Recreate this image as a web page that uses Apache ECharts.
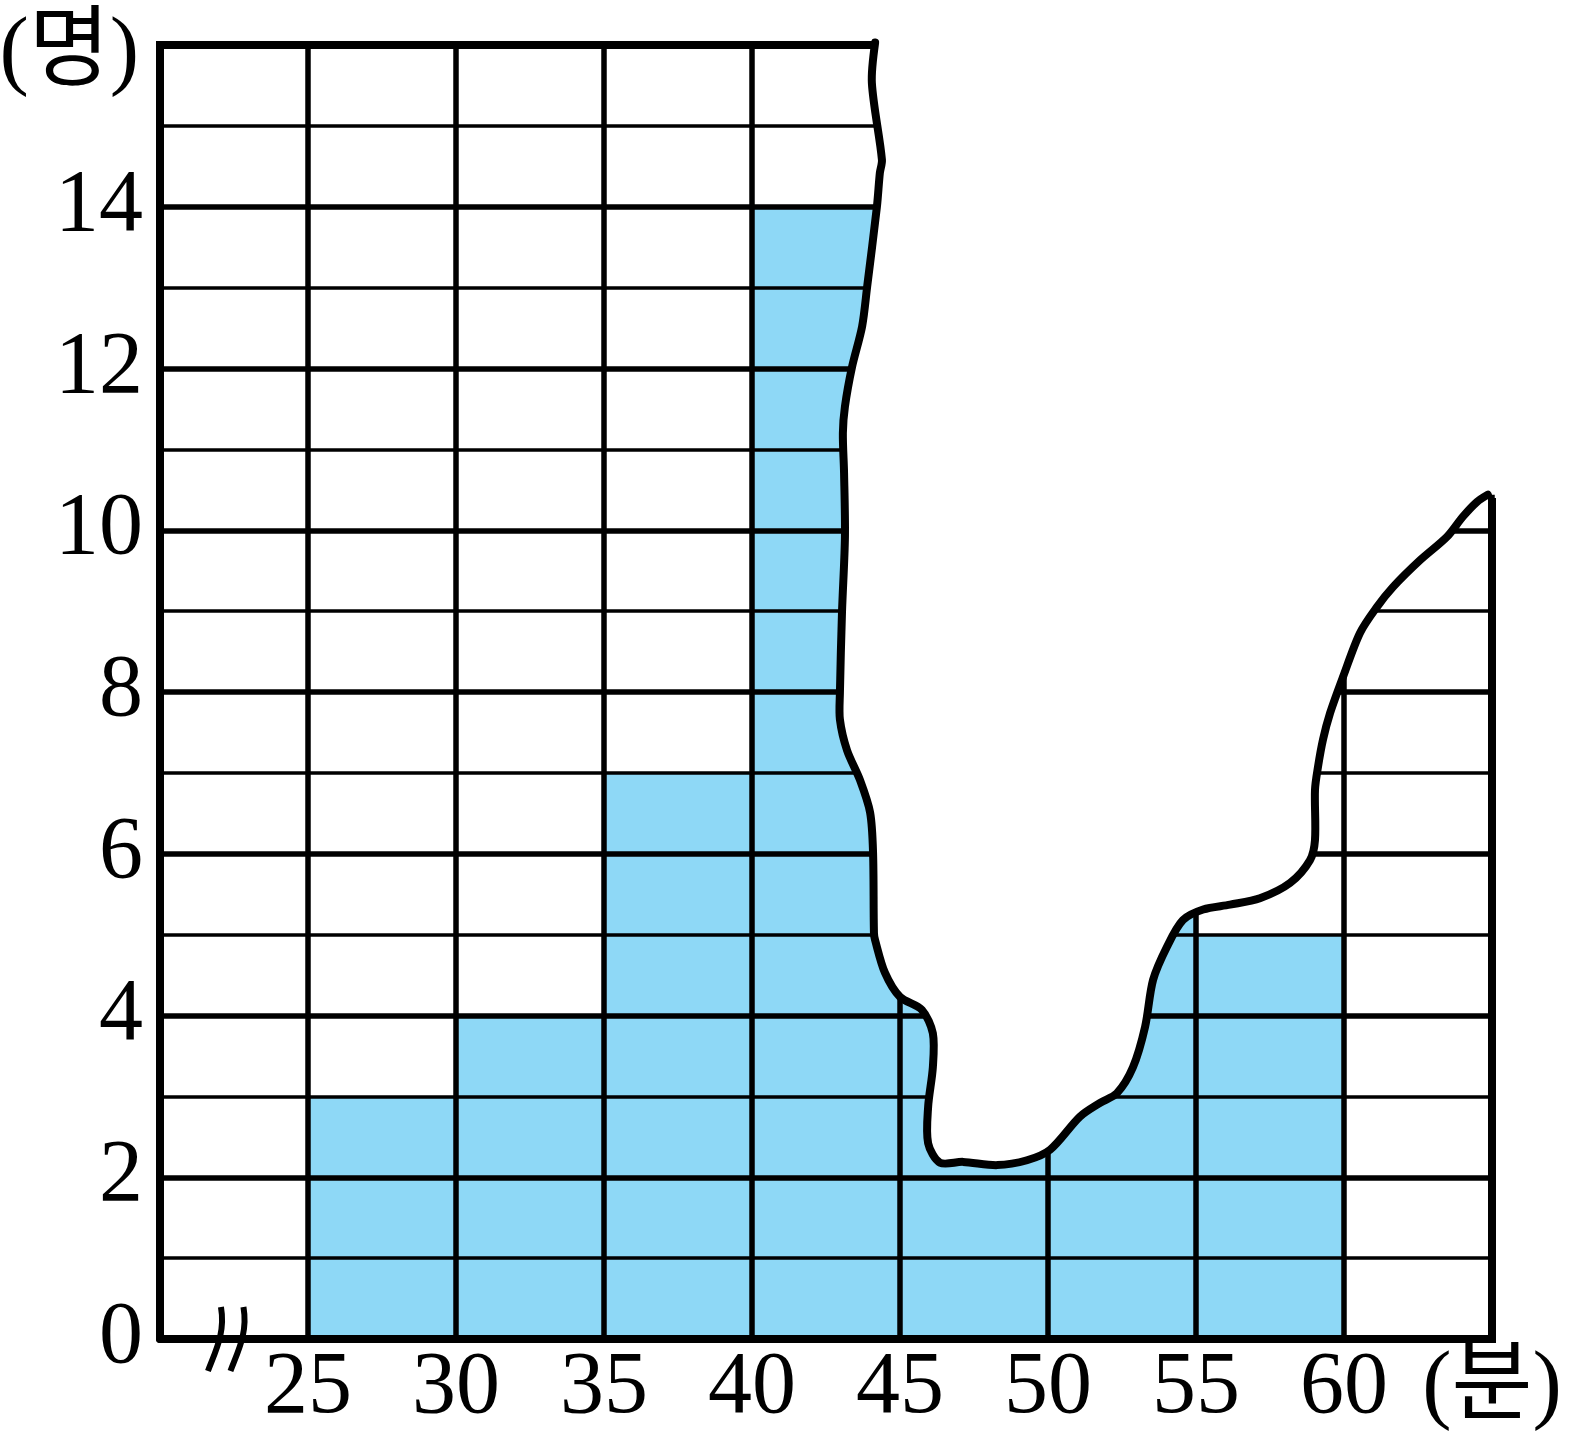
<!DOCTYPE html>
<html>
<head>
<meta charset="utf-8">
<script src="https://cdn.jsdelivr.net/npm/echarts@6/dist/echarts.min.js"></script>
<style>
html,body{margin:0;padding:0;background:#fff;}
#chart{width:1574px;height:1442px;}
</style>
</head>
<body>
<div id="chart"></div>
<script>
// ---- data ----
const binStarts = [25, 30, 35, 40, 45, 50, 55, 60];
const binWidth = 5;
const counts = [3, 4, 7, 14, 9, 6, 5, 0];   // 45-50, 50-55 hidden by the torn area (estimated)
const xTicks = [20, 25, 30, 35, 40, 45, 50, 55, 60, 65];
const yTickLabels = [0, 2, 4, 6, 8, 10, 12, 14];
const xUnit = '(분)';
const yUnit = '(명)';
// torn edge of the paper, in data units (minutes, persons)
const tearCurve = [
  [44.16,16.03],[44.05,15.53],[44.39,14.58],[44.32,14.42],[44.22,14.0],[43.89,13.01],
  [43.72,12.52],[43.38,12.02],[43.14,11.53],[43.07,11.2],[43.11,10.71],[43.14,9.92],
  [43.04,8.98],[42.97,7.99],[42.97,7.66],[43.21,7.28],[43.65,6.91],[43.99,6.51],
  [44.09,6.01],[44.12,5.02],[44.16,4.93],[44.49,4.53],[45.0,4.23],[45.74,4.07],
  [46.11,3.78],[46.11,3.36],[45.95,2.87],[45.95,2.42],[46.35,2.18],[47.13,2.19],
  [48.28,2.15],[49.29,2.21],[50.07,2.34],[51.08,2.75],[51.76,2.92],[52.33,3.04],
  [52.87,3.36],[53.28,3.86],[53.55,4.44],[54.02,4.85],[54.56,5.18],[55.24,5.31],
  [56.15,5.37],[57.16,5.45],[58.18,5.64],[58.85,5.92],[59.02,6.17],[59.02,6.79],
  [59.12,7.07],[59.29,7.41],[59.53,7.74],[59.97,8.19],[60.54,8.73],[61.11,9.05],
  [61.66,9.3],[62.57,9.63],[63.48,9.92],[64.02,10.17],[64.49,10.35],[64.86,10.44]
];
const rightBorderTop = 10.4;
const breakAt = [22.22, 0];

// ---- chart ----
const chart = echarts.init(document.getElementById('chart'), null, {renderer: 'canvas'});
const serif = "'Liberation Serif', 'Noto Sans CJK KR', serif";
const labelFont = 88;

const option = {
  backgroundColor: '#ffffff',
  animation: false,
  grid: {left: 160, right: 82, top: 45, bottom: 103, containLabel: false, outerBoundsMode: 'none'},
  xAxis: {
    type: 'value', min: 20, max: 65, interval: 5, z: 5,
    axisLine: {show: true, lineStyle: {color: '#000', width: 8}},
    axisTick: {show: false},
    splitLine: {show: true, lineStyle: {color: '#000', width: 5.5}},
    axisLabel: {
      show: true, showMinLabel: true, showMaxLabel: true, margin: 6,
      color: '#000', fontFamily: serif, fontSize: labelFont,
      formatter: v => v === 20 ? '' : (v === 65 ? '{k|' + xUnit + '}' : String(v)),
      rich: {k: {fontFamily: serif, fontSize: labelFont, color: '#000'}}
    }
  },
  yAxis: [
    {
      type: 'value', min: 0, max: 16, interval: 1, position: 'left', z: 5,
      axisLine: {show: false}, axisTick: {show: false}, axisLabel: {show: false},
      splitLine: {show: true, lineStyle: {color: '#000', width: 3.5}}
    },
    {
      type: 'value', min: 0, max: 16, interval: 2, position: 'left', offset: 0, z: 6,
      axisLine: {show: true, lineStyle: {color: '#000', width: 8}},
      axisTick: {show: false},
      splitLine: {show: true, lineStyle: {color: '#000', width: 5.5}},
      axisLabel: {
        show: true, showMinLabel: true, showMaxLabel: true, margin: 17,
        color: '#000', fontFamily: serif, fontSize: labelFont,
        formatter: v => v === 16 ? '{k|' + yUnit + '}' : (yTickLabels.indexOf(v) >= 0 ? String(v) : ''),
        rich: {k: {fontFamily: serif, fontSize: labelFont, color: '#000', padding: [20, 4, 0, 0]}}
      }
    }
  ],
  series: [
    {
      type: 'custom', name: 'bars', z: 2, xAxisIndex: 0, yAxisIndex: 1,
      data: binStarts.map((b, i) => [b, counts[i]]),
      renderItem: (params, api) => {
        const x0 = api.value(0), y = api.value(1);
        const p0 = api.coord([x0, y]);
        const p1 = api.coord([x0 + binWidth, 0]);
        return {
          type: 'rect',
          shape: {x: p0[0], y: p0[1], width: p1[0] - p0[0], height: p1[1] - p0[1]},
          style: {fill: '#8ED8F6'}
        };
      }
    },
    {
      type: 'custom', name: 'tear', z: 10, xAxisIndex: 0, yAxisIndex: 1, clip: false,
      data: [[tearCurve[0][0], tearCurve[0][1]]],
      renderItem: (params, api) => {
        const pts = tearCurve.map(p => api.coord(p));
        const last = tearCurve[tearCurve.length - 1];
        const poly = pts.concat([
          api.coord([67.5, last[1]]),
          api.coord([67.5, 18]),
          api.coord([tearCurve[0][0], 18])
        ]);
        return {
          type: 'group',
          children: [
            {type: 'polygon', shape: {points: poly}, style: {fill: '#ffffff', stroke: null}},
            {type: 'polyline', shape: {points: pts, smooth: 0.3},
             style: {fill: null, stroke: '#000', lineWidth: 8, lineJoin: 'round', lineCap: 'round'}}
          ]
        };
      }
    },
    {
      type: 'custom', name: 'frame', z: 9, xAxisIndex: 0, yAxisIndex: 1, clip: false,
      data: [[20, 16]],
      renderItem: (params, api) => {
        const a = api.coord([20, 16]);
        const b = api.coord([tearCurve[0][0], 16]);
        const c = api.coord([65, 0]);
        const d = api.coord([65, rightBorderTop]);
        return {
          type: 'group',
          children: [
            {type: 'line', shape: {x1: a[0] - 4, y1: a[1], x2: b[0], y2: b[1]}, style: {stroke: '#000', lineWidth: 8}},
            {type: 'line', shape: {x1: c[0], y1: c[1] + 4, x2: d[0], y2: d[1]}, style: {stroke: '#000', lineWidth: 8}}
          ]
        };
      }
    },
    {
      type: 'custom', name: 'break', z: 12, xAxisIndex: 0, yAxisIndex: 1, clip: false,
      data: [breakAt],
      renderItem: (params, api) => {
        const c = api.coord([api.value(0), api.value(1)]);
        const mk = dx => ({
          type: 'bezierCurve',
          shape: {
            x1: c[0] + dx + 6.5, y1: c[1] - 32,
            cpx1: c[0] + dx + 11, cpy1: c[1] - 6,
            cpx2: c[0] + dx + 1, cpy2: c[1] + 12,
            x2: c[0] + dx - 6.5, y2: c[1] + 32
          },
          style: {fill: null, stroke: '#000', lineWidth: 6}
        });
        return {type: 'group', children: [mk(-11.25), mk(11.25)]};
      }
    }
  ]
};
chart.setOption(option);
</script>
</body>
</html>
